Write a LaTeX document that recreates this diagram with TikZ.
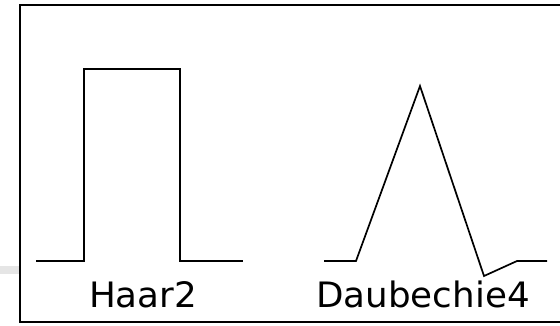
\documentclass[tikz,border=0pt]{standalone}
\usepackage{fontspec}
\setmainfont{DejaVu Sans}[FakeStretch=1.02]
\begin{document}
\begin{tikzpicture}[x=1pt,y=-1pt,
  wave/.style={line width=1.7pt,line join=miter},
  frameline/.style={line width=2.2pt},
  lbl/.style={anchor=base,inner sep=0pt,font=\fontsize{35}{38}\selectfont}]
\useasboundingbox (0,0) rectangle (560,325);
\fill[gray!20] (0,266) rectangle (20,274);
\draw[frameline] (560,5) -- (20,5) -- (20,322) -- (560,322);
\draw[wave] (36,261) -- (84,261) -- (84,69) -- (180,69) -- (180,261) -- (243,261);
\draw[wave] (324,261) -- (356,261) -- (420,86) -- (484,276) -- (517,261) -- (547,261);
\node[lbl] (haar) at (143,307) {Haar2};
\node[lbl] (daub) at (423,307) {Daubechie4};
\end{tikzpicture}
\end{document}
